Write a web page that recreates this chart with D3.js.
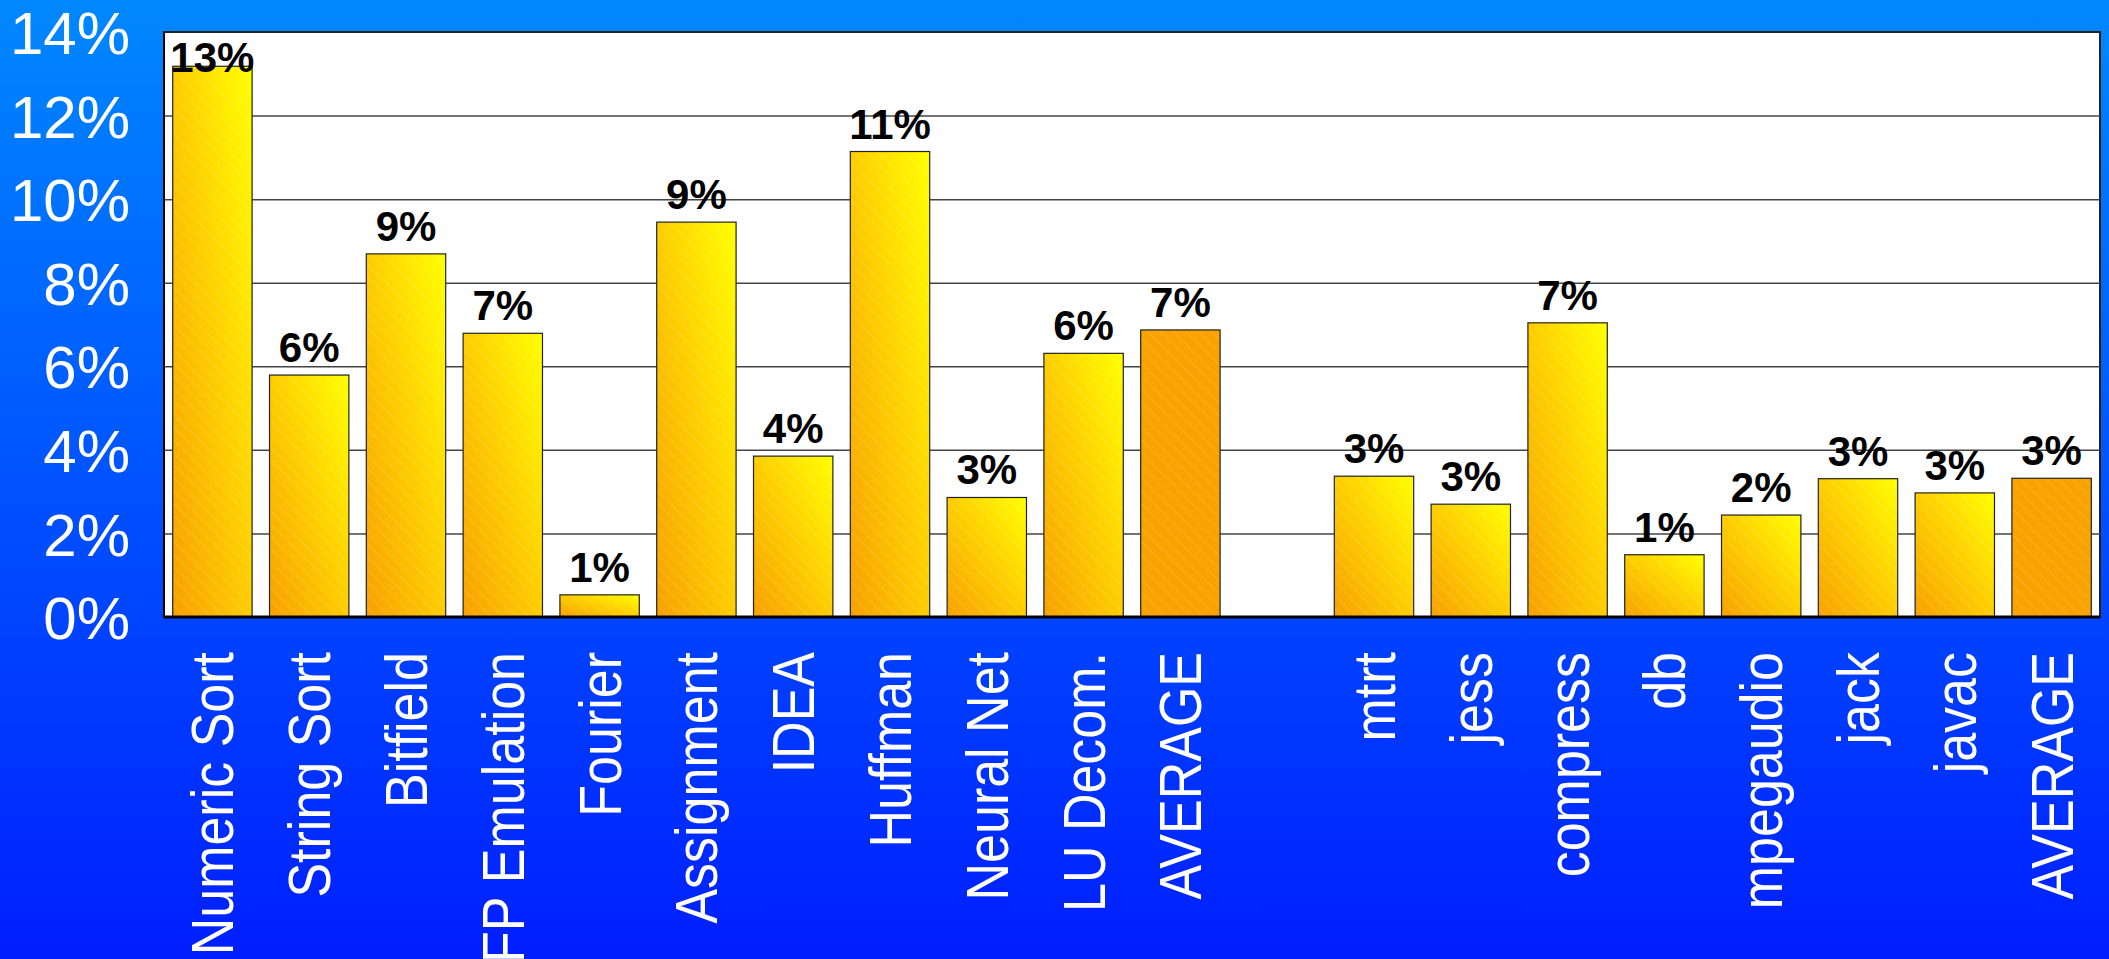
<!DOCTYPE html>
<html lang="en">
<head>
    <meta charset="UTF-8" />
    <title>Benchmark bars</title>
    <script src="https://d3js.org/d3.v7.min.js"></script>
    <style>
        body { margin: 0; overflow: hidden; }
        text { font-family: "Liberation Sans", Arial, sans-serif; }
    </style>
</head>
<body>
    <script>
        // data
        var group1Names = ["Numeric Sort", "String Sort", "Bitfield", "FP Emulation", "Fourier",
            "Assignment", "IDEA", "Huffman", "Neural Net", "LU Decom.", "AVERAGE"];
        var group1Values = [13.18, 5.79, 8.69, 6.79, 0.53, 9.45, 3.85, 11.14, 2.86, 6.31, 6.87];
        var group2Names = ["mtrt", "jess", "compress", "db", "mpegaudio", "jack", "javac", "AVERAGE"];
        var group2Values = [3.37, 2.70, 7.04, 1.49, 2.44, 3.31, 2.97, 3.32];
        var yTicks = [0, 2, 4, 6, 8, 10, 12, 14];

        var w = 2109, h = 959;
        var plot = {left: 164, right: 2100, top: 32, bottom: 617};

        // one empty slot between the two groups
        var categories = group1Names.concat([""], group2Names);
        var values = group1Values.concat([null], group2Values);
        var isAvg = categories.map(function(c) { return c === "AVERAGE"; });
        var data = categories.map(function(c, i) {
            return {i: i, name: c, value: values[i], avg: isAvg[i]};
        });

        var svg = d3.select("body").append("svg")
            .attr("width", w)
            .attr("height", h);

        var defs = svg.append("defs");
        var bg = defs.append("linearGradient").attr("id", "bg")
            .attr("x1", 0).attr("y1", 0).attr("x2", 0).attr("y2", 1);
        bg.append("stop").attr("offset", 0).attr("stop-color", "#0088ff");
        bg.append("stop").attr("offset", 1).attr("stop-color", "#001eff");

        var barGrad = defs.append("linearGradient").attr("id", "barGrad")
            .attr("x1", 0).attr("y1", 1).attr("x2", 1).attr("y2", 0);
        barGrad.append("stop").attr("offset", 0).attr("stop-color", "#f8a000");
        barGrad.append("stop").attr("offset", 0.55).attr("stop-color", "#fed200");
        barGrad.append("stop").attr("offset", 1).attr("stop-color", "#ffff00");

        // faint dotted diagonal hatch
        var hatch = defs.append("pattern").attr("id", "hatch")
            .attr("patternUnits", "userSpaceOnUse")
            .attr("width", 9).attr("height", 9)
            .attr("patternTransform", "rotate(-45)");
        hatch.append("line")
            .attr("x1", 1).attr("y1", 0).attr("x2", 1).attr("y2", 9)
            .attr("stroke", "#fff").attr("stroke-opacity", 0.3)
            .attr("stroke-width", 1).attr("stroke-dasharray", "1.5,1.5");

        svg.append("rect").attr("width", w).attr("height", h).attr("fill", "url(#bg)");

        // scales
        var xScale = d3.scaleBand()
            .domain(d3.range(categories.length))
            .range([plot.left, plot.right])
            .paddingInner(0.18)
            .paddingOuter(0.09);
        var yScale = d3.scaleLinear()
            .domain([0, 14])
            .range([plot.bottom, plot.top]);

        // plot area
        svg.append("rect")
            .attr("x", plot.left).attr("y", plot.top)
            .attr("width", plot.right - plot.left)
            .attr("height", plot.bottom - plot.top)
            .attr("fill", "#fff")
            .attr("stroke", "#222").attr("stroke-width", 2);

        // gridlines
        svg.append("g")
            .attr("transform", "translate(" + plot.left + ",0)")
            .call(d3.axisLeft(yScale).tickValues(yTicks.slice(1, -1))
                .tickSize(-(plot.right - plot.left)).tickFormat(""))
            .call(function(g) {
                g.select(".domain").remove();
                g.selectAll("line").attr("stroke", "#444").attr("stroke-width", 1.5);
            });

        // y axis labels
        svg.append("g")
            .attr("transform", "translate(" + plot.left + ",0)")
            .call(d3.axisLeft(yScale).tickValues(yTicks).tickSize(0).tickPadding(34)
                .tickFormat(function(d) { return d + "%"; }))
            .call(function(g) {
                g.select(".domain").remove();
                g.selectAll("text")
                    .attr("fill", "#fff")
                    .attr("font-size", "60px")
                    .attr("dy", "0.36em");
            });

        // bars
        svg.selectAll(".bar")
            .data(data.filter(function(d) { return d.value !== null; }))
            .enter()
            .append("rect")
            .attr("class", "bar")
            .attr("x", function(d) { return xScale(d.i); })
            .attr("y", function(d) { return yScale(d.value); })
            .attr("width", xScale.bandwidth())
            .attr("height", function(d) { return yScale(0) - yScale(d.value); })
            .attr("fill", function(d) { return d.avg ? "#f9a200" : "url(#barGrad)"; })
            .attr("stroke", "#222")
            .attr("stroke-width", 1.2);

        svg.selectAll(".hatch")
            .data(data.filter(function(d) { return d.value !== null; }))
            .enter()
            .append("rect")
            .attr("class", "hatch")
            .attr("x", function(d) { return xScale(d.i) + 1; })
            .attr("y", function(d) { return yScale(d.value) + 1; })
            .attr("width", xScale.bandwidth() - 2)
            .attr("height", function(d) { return yScale(0) - yScale(d.value) - 2; })
            .attr("fill", "url(#hatch)");

        // value labels
        svg.selectAll(".val")
            .data(data.filter(function(d) { return d.value !== null; }))
            .enter()
            .append("text")
            .attr("class", "val")
            .attr("x", function(d) { return xScale(d.i) + xScale.bandwidth() / 2; })
            .attr("y", function(d) { return Math.max(yScale(d.value) - 13, plot.top + 40); })
            .attr("text-anchor", "middle")
            .attr("font-size", "42px")
            .attr("font-weight", "bold")
            .attr("fill", "#000")
            .text(function(d) { return Math.round(d.value) + "%"; });

        // x axis
        svg.append("g")
            .attr("transform", "translate(0," + plot.bottom + ")")
            .call(d3.axisBottom(xScale).tickSize(0)
                .tickFormat(function(i) { return categories[i]; }))
            .call(function(g) {
                g.select(".domain").remove();
                g.selectAll("text")
                    .attr("fill", "#fff")
                    .attr("font-size", "52px")
                    .attr("text-anchor", "end")
                    .attr("x", 0).attr("y", 0).attr("dy", null)
                    .attr("transform", "translate(21,35) rotate(-90) scale(1,1.15)");
            });

        // axis lines
        svg.append("line")
            .attr("x1", plot.left).attr("x2", plot.right)
            .attr("y1", plot.bottom).attr("y2", plot.bottom)
            .attr("stroke", "#000").attr("stroke-width", 3);
        svg.append("line")
            .attr("x1", plot.left).attr("x2", plot.left)
            .attr("y1", plot.top).attr("y2", plot.bottom)
            .attr("stroke", "#000").attr("stroke-width", 2);
    </script>
</body>
</html>
